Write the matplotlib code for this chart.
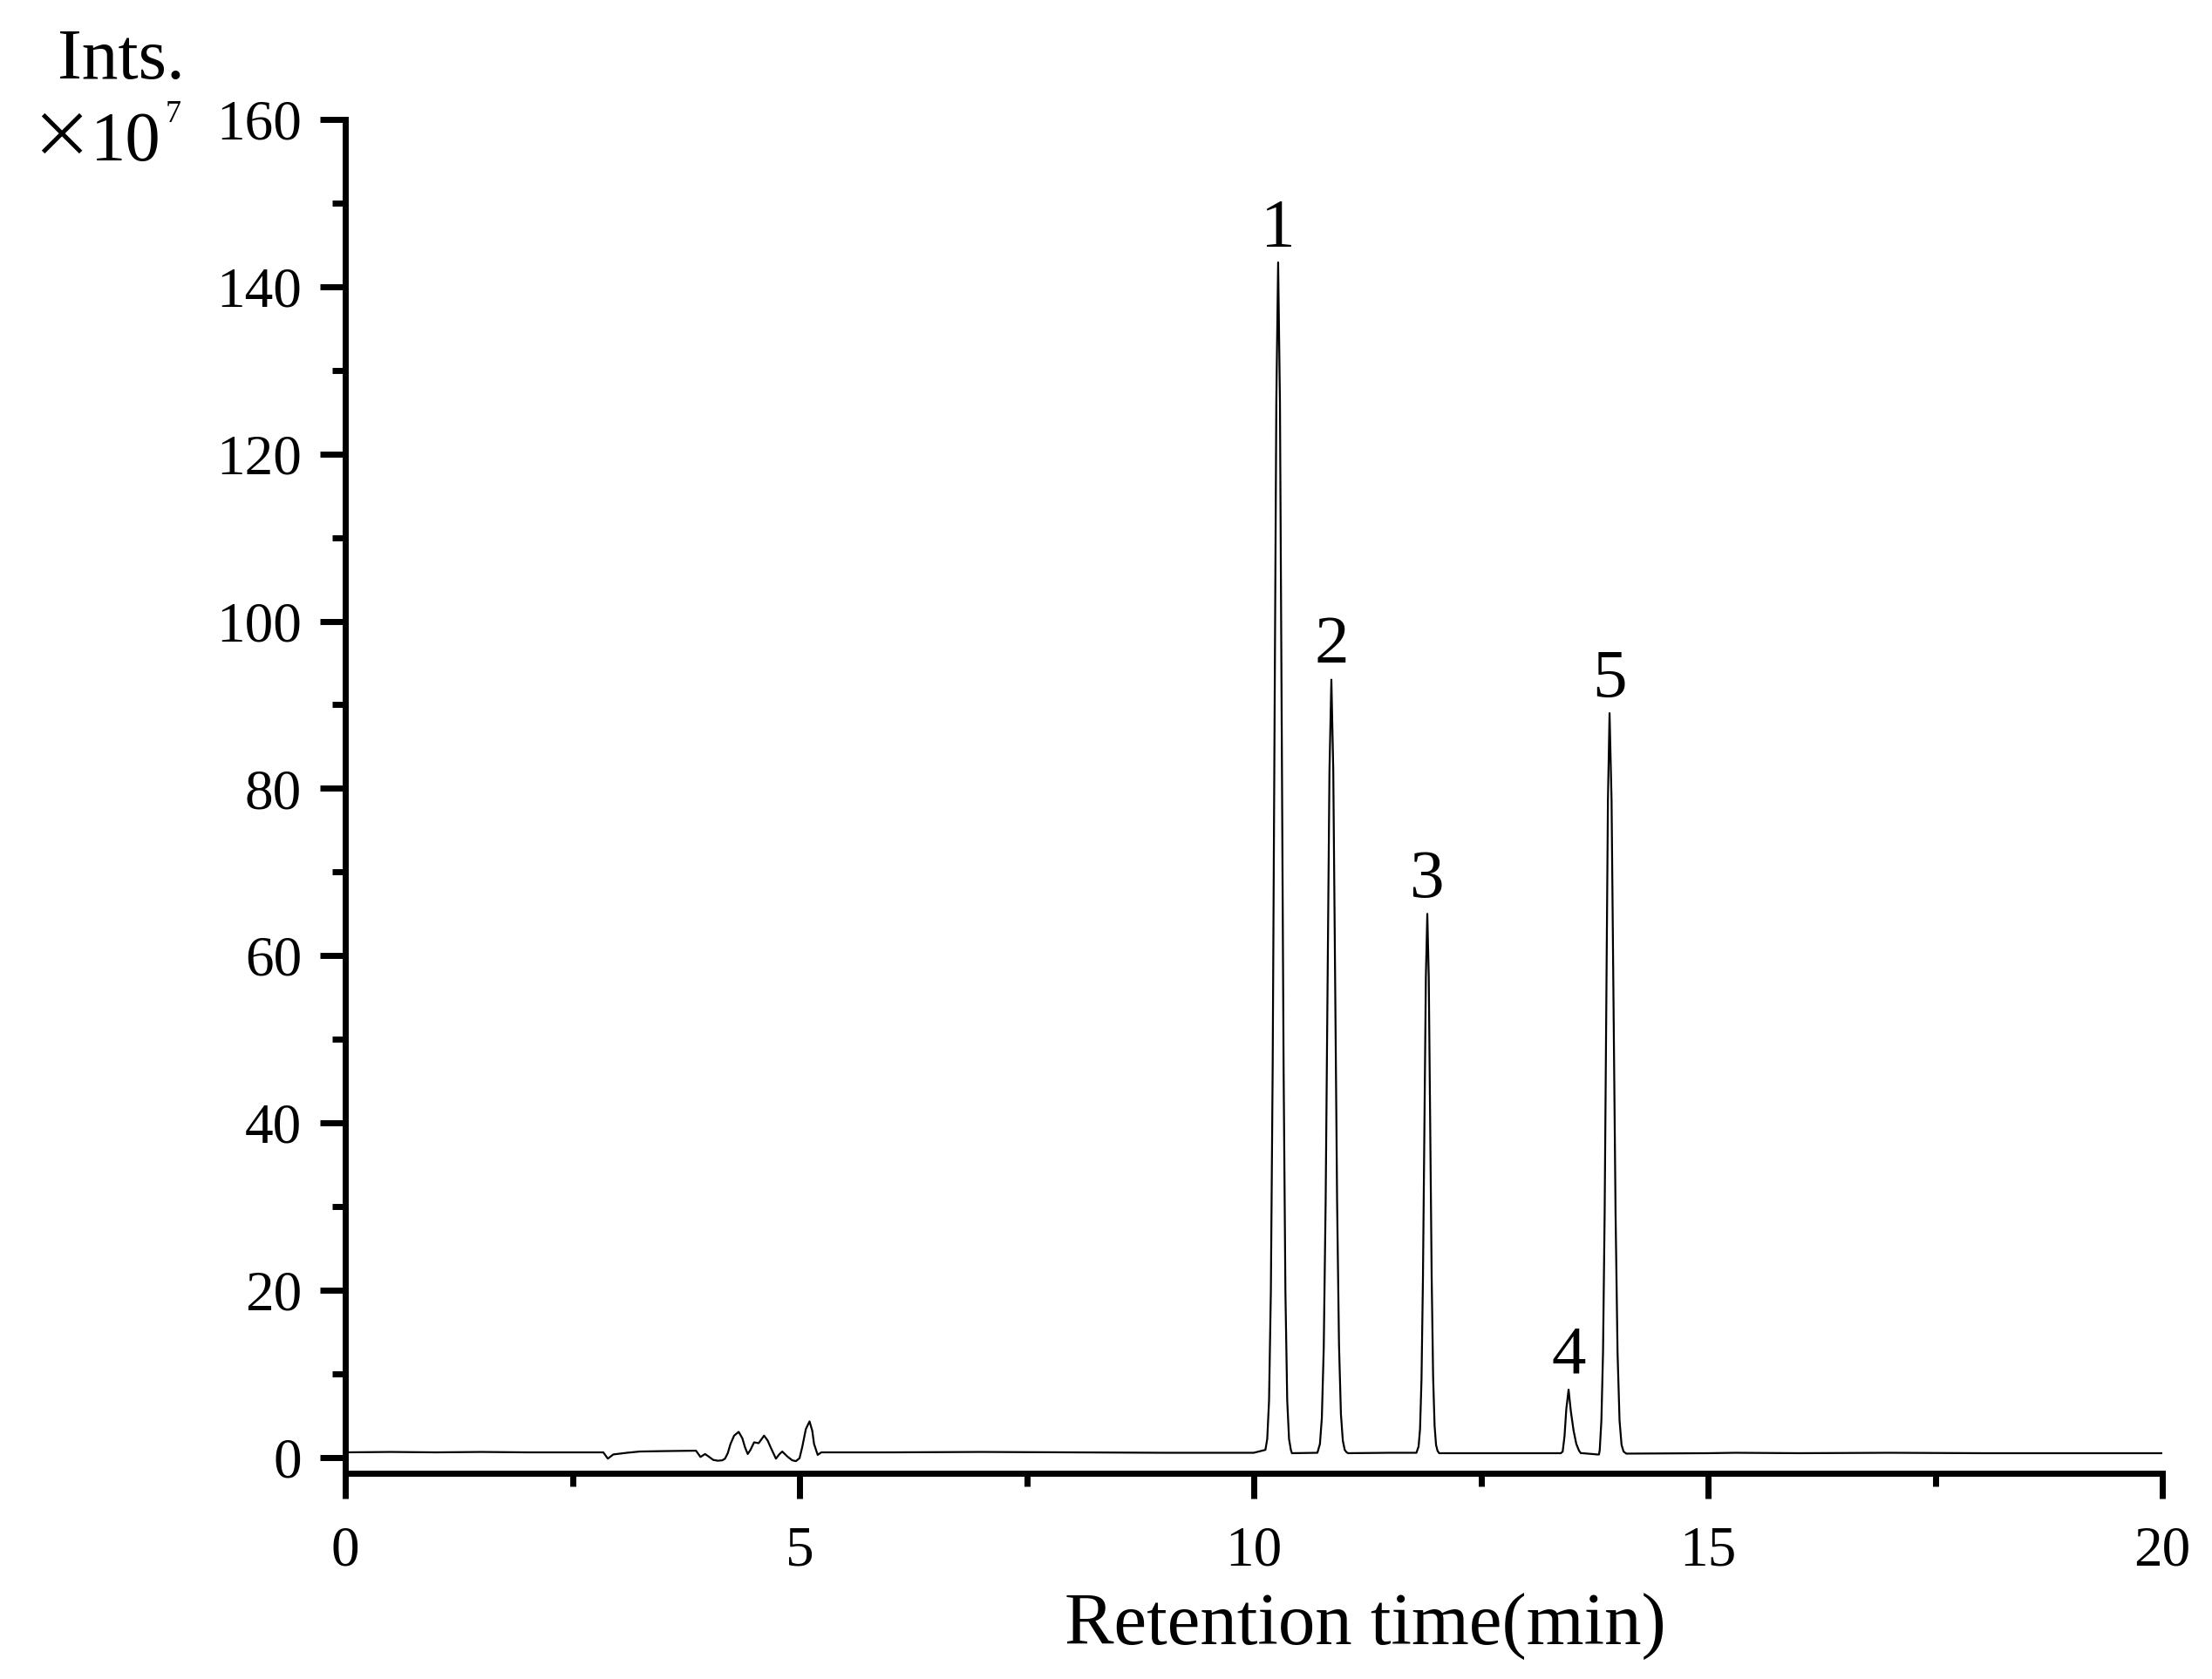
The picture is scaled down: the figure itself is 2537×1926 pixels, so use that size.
import numpy as np
import matplotlib
matplotlib.use("Agg")
import matplotlib.pyplot as plt
from matplotlib.ticker import MultipleLocator

plt.rcParams['font.family'] = ['Liberation Serif', 'DejaVu Serif']

# chromatogram trace (time in min, intensity x1e7)
time = [0.0, 0.5, 1.0, 1.5, 2.0, 2.5, 2.84, 2.89, 2.95, 3.1, 3.24, 3.5, 3.86, 3.91, 3.96,
        4.00, 4.05, 4.10, 4.15, 4.18, 4.21, 4.24, 4.28, 4.33, 4.37, 4.40, 4.43, 4.46,
        4.50, 4.55, 4.61, 4.65, 4.68, 4.74, 4.78, 4.81, 4.87, 4.92, 4.96, 5.00, 5.03,
        5.07, 5.11, 5.14, 5.16, 5.20, 5.24, 6.0, 7.0, 8.0, 9.0, 10.0,
        # peak 1
        10.128, 10.148, 10.168, 10.188, 10.208, 10.228, 10.248, 10.268, 10.288, 10.308,
        10.328, 10.348, 10.368, 10.388, 10.408, 10.42, 10.70,
        # peak 2
        10.728, 10.749, 10.770, 10.791, 10.812, 10.833, 10.854, 10.875, 10.896, 10.917,
        10.938, 10.959, 10.980, 11.001, 11.022, 11.04, 11.5, 11.79,
        # peak 3
        11.814, 11.830, 11.846, 11.862, 11.878, 11.894, 11.910, 11.926, 11.942, 11.958,
        11.974, 11.990, 12.006, 12.022, 12.04, 12.5, 13.0, 13.38,
        # peak 4
        13.40, 13.42, 13.44, 13.465, 13.49, 13.52, 13.55, 13.58, 13.60, 13.62, 13.78,
        # peak 5
        13.80, 13.808, 13.826, 13.844, 13.862, 13.880, 13.898, 13.916, 13.938, 13.960,
        13.982, 14.004, 14.026, 14.048, 14.070, 14.10, 15.0, 15.3, 16.0, 17.0, 18.0,
        19.0, 20.0]
intensity = [0.6, 0.65, 0.6, 0.65, 0.6, 0.6, 0.6, -0.15, 0.35, 0.55, 0.7, 0.75, 0.8, 0.05, 0.4,
             0.1, -0.3, -0.4, -0.35, -0.15, 0.5, 1.6, 2.6, 3.05, 2.3, 1.2, 0.4, 0.9,
             1.8, 1.7, 2.6, 2.0, 1.25, -0.15, 0.4, 0.7, 0.07, -0.35, -0.45, -0.1, 1.25,
             3.4, 4.3, 3.2, 1.6, 0.3, 0.6, 0.6, 0.65, 0.6, 0.55, 0.55,
             0.9, 2.2, 6.8, 19.9, 46.8, 86.9, 126.2, 142.9, 126.2, 86.9,
             46.8, 19.9, 6.8, 2.2, 0.9, 0.5, 0.55,
             1.6, 4.7, 13.1, 30.6, 56.6, 82.1, 93.0, 82.1, 56.6, 30.6,
             13.5, 5.2, 2.0, 0.9, 0.6, 0.5, 0.55, 0.55,
             1.3, 3.4, 9.3, 21.5, 39.7, 57.4, 65.0, 57.4, 39.7, 21.5,
             9.6, 3.8, 1.5, 0.8, 0.5, 0.5, 0.5, 0.5,
             0.7, 2.5, 5.8, 8.1, 5.5, 3.2, 1.6, 0.8, 0.5, 0.5, 0.35,
             0.35, 0.9, 4.4, 12.5, 29.2, 54.2, 78.6, 89.0, 78.6, 54.2,
             29.2, 12.5, 4.4, 1.5, 0.7, 0.45, 0.5, 0.55, 0.5, 0.55, 0.5,
             0.5, 0.5]

peak_labels = ['1', '2', '3', '4', '5']
peak_times = [10.268, 10.854, 11.910, 13.465, 13.916]
peak_heights = [142.9, 93.0, 65.0, 8.1, 89.0]

x_ticks = [0, 5, 10, 15, 20]
y_ticks = [0, 20, 40, 60, 80, 100, 120, 140, 160]

W, H = 2537, 1926
fig = plt.figure(figsize=(W / 100, H / 100), dpi=100)
ax = fig.add_axes([396 / W, 1 - 1690 / H, (2480 - 396) / W, (1690 - 137) / H])

ax.plot(time, intensity, color='black', lw=1.6)

ax.set_xlim(0, 20)
ax.set_ylim(-1.9, 160)
ax.set_xticks(x_ticks)
ax.set_yticks(y_ticks)
ax.xaxis.set_minor_locator(MultipleLocator(2.5))
ax.yaxis.set_minor_locator(MultipleLocator(10))

for s in ['top', 'right']:
    ax.spines[s].set_visible(False)
for s in ['left', 'bottom']:
    ax.spines[s].set_linewidth(5)

ax.tick_params(which='major', direction='out', length=21, width=5, labelsize=47)
ax.tick_params(which='minor', direction='out', length=11, width=5)
ax.tick_params(axis='y', which='major', pad=15)
ax.tick_params(axis='x', which='major', pad=22)

# peak numbers
for lab, t, h in zip(peak_labels, peak_times, peak_heights):
    ax.annotate(lab, (t, h), xytext=(0, 14), textcoords='offset points',
                ha='center', va='baseline', fontsize=57)

# axis titles
fig.text(1566 / W, 1 - 1886 / H, 'Retention time(min)', ha='center', va='baseline',
         fontsize=61)
fig.text(66 / W, 1 - 90 / H, 'Ints.', ha='left', va='baseline', fontsize=60)
fig.text(34 / W, 1 - 180 / H, '\u00d7', ha='left', va='baseline', fontsize=52,
         family=['Noto Sans CJK SC', 'DejaVu Sans'])
fig.text(104 / W, 1 - 184 / H, '10', ha='left', va='baseline', fontsize=58)
fig.text(190 / W, 1 - 140 / H, '7', ha='left', va='baseline', fontsize=26)

fig.savefig('out.png', dpi=100)
